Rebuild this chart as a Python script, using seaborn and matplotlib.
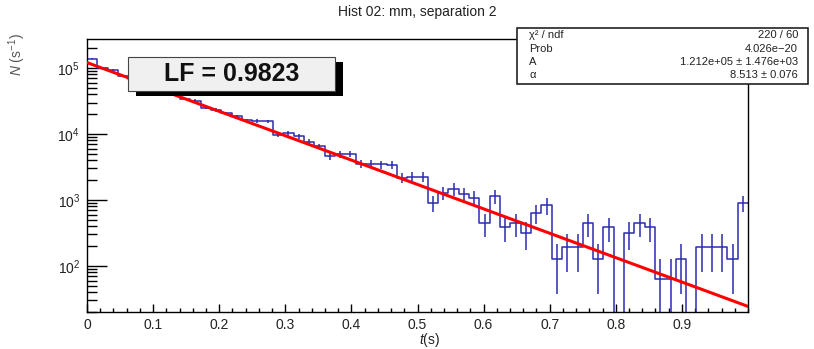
import numpy as np
import pandas as pd
import matplotlib
matplotlib.use("Agg")
import matplotlib.pyplot as plt
import seaborn as sns
from matplotlib.patches import Rectangle
from matplotlib.ticker import LogLocator, LogFormatterMathtext, NullFormatter, MultipleLocator

# --- dados ---
t_min, t_max, n_bins = 0.0, 1.0, 64
# contagens por bin (bins 4-8 ficam escondidos atrás da caixa LF)
counts = [2170, 1545, 1450, 1190, 1060, 890, 810, 690, 620, 535,
          500, 390, 362, 320, 290, 252, 245, 242, 153, 161,
          144, 120, 102, 72, 77, 78, 55, 55, 54, 53,
          34, 35, 35, 14, 20, 23, 19, 17, 7, 18,
          6, 7, 5, 10, 13, 2, 3, 3, 7, 2,
          6, 0, 5, 7, 6, 1, 1, 2, 0, 3,
          3, 3, 2, 14]

# reta do ajuste (extremos em t=0 e t=1)
fit_t = [0.0, 1.0]
fit_rate = [1.212e5, 24.3]

title = "Hist 02: mm, separation 2"
x_ticks = [0.0, 0.1, 0.2, 0.3, 0.4, 0.5, 0.6, 0.7, 0.8, 0.9]
x_tick_labels = ["0", "0.1", "0.2", "0.3", "0.4", "0.5", "0.6", "0.7", "0.8", "0.9"]
stat_names = ["χ² / ndf", "Prob", "A", "α"]
stat_values = ["220 / 60", "4.026e−20", "1.212e+05 ± 1.476e+03", "8.513 ± 0.076"]
lf_text = "LF = 0.9823"

# --- estilo ---
sns.set_theme(style="ticks")
plt.rcParams["font.family"] = ["Liberation Sans", "DejaVu Sans"]
plt.rcParams["mathtext.fontset"] = "custom"
plt.rcParams["mathtext.rm"] = "Liberation Sans"
plt.rcParams["mathtext.it"] = "Liberation Sans:italic"
plt.rcParams["axes.linewidth"] = 1.0
plt.rcParams["axes.edgecolor"] = "black"

blue = "#2b2bb0"
txt = "#222222"

W, H = 814, 349
def fx(px):
    return px / W
def fy(py):
    return 1 - py / H

fig = plt.figure(figsize=(W / 100, H / 100), dpi=100)
ax = fig.add_axes([fx(87), fy(312), (748 - 87) / W, (312 - 39) / H])

counts = np.array(counts, dtype=float)
bin_width = (t_max - t_min) / n_bins
centers = t_min + bin_width * (np.arange(n_bins) + 0.5)
rate = counts / bin_width
err = np.sqrt(counts) / bin_width

df = pd.DataFrame({"t": centers, "rate": rate})
sns.histplot(data=df, x="t", weights="rate", binwidth=bin_width, binrange=(t_min, t_max),
             element="step", fill=False, color=blue, linewidth=1.1, ax=ax)

m = counts > 0
ax.errorbar(centers[m], rate[m], yerr=err[m], fmt="none", ecolor=blue,
            elinewidth=1.1, capsize=0)

sns.lineplot(x=fit_t, y=fit_rate, color="red", linewidth=2.2, ax=ax, zorder=4)

ax.set_yscale("log")
ax.set_xlim(t_min, t_max)
ax.set_ylim(20, 2.76e5)
ax.set_xlabel("")
ax.set_ylabel("")

ax.set_xticks(x_ticks)
ax.set_xticklabels(x_tick_labels)
ax.xaxis.set_minor_locator(MultipleLocator(0.02))
ax.yaxis.set_major_locator(LogLocator(base=10))
ax.yaxis.set_major_formatter(LogFormatterMathtext())
ax.yaxis.set_minor_locator(LogLocator(base=10, subs=np.arange(2, 10)))
ax.yaxis.set_minor_formatter(NullFormatter())

ax.tick_params(axis="both", which="both", direction="in", top=False, right=False,
               colors="black", labelcolor=txt, labelsize=10, width=1.0)
ax.tick_params(axis="x", which="major", length=5.8, pad=4)
ax.tick_params(axis="x", which="minor", length=2.9)
ax.tick_params(axis="y", which="major", length=14.4, pad=5)
ax.tick_params(axis="y", which="minor", length=7.2)

# --- textos ---
fig.text(fx(417), fy(12), title, ha="center", va="center", fontsize=10, color=txt)
fig.text(fx(430), fy(340), r"$t$(s)", ha="center", va="center", fontsize=10, color=txt)
fig.text(fx(17), fy(55), r"$N$ (s$^{-1}$)", ha="center", va="center",
         rotation=90, fontsize=10, color="#555555")

# caixa de estatísticas
fig.add_artist(Rectangle((fx(517), fy(84)), (808 - 517) / W, (84 - 28) / H,
                         transform=fig.transFigure, facecolor="white",
                         edgecolor="#222222", linewidth=1.2, zorder=5))
rows_y = [35, 48.5, 62, 75]
for name, val, yy in zip(stat_names, stat_values, rows_y):
    fig.text(fx(529), fy(yy), name, ha="left", va="center", fontsize=8, color=txt, zorder=6)
    fig.text(fx(798), fy(yy), val, ha="right", va="center", fontsize=8, color=txt, zorder=6)

# caixa LF com sombra
fig.add_artist(Rectangle((fx(136), fy(96)), (335 - 128) / W, (91 - 57) / H,
                         transform=fig.transFigure, facecolor="black",
                         edgecolor="none", zorder=5))
fig.add_artist(Rectangle((fx(128), fy(91)), (335 - 128) / W, (91 - 57) / H,
                         transform=fig.transFigure, facecolor="#f0f0f0",
                         edgecolor="#444444", linewidth=0.8, zorder=6))
fig.text(fx(231.5), fy(74), lf_text, ha="center", va="center", fontsize=18,
         fontweight="bold", color="#111111", zorder=7)

fig.savefig("out.png", dpi=100)
